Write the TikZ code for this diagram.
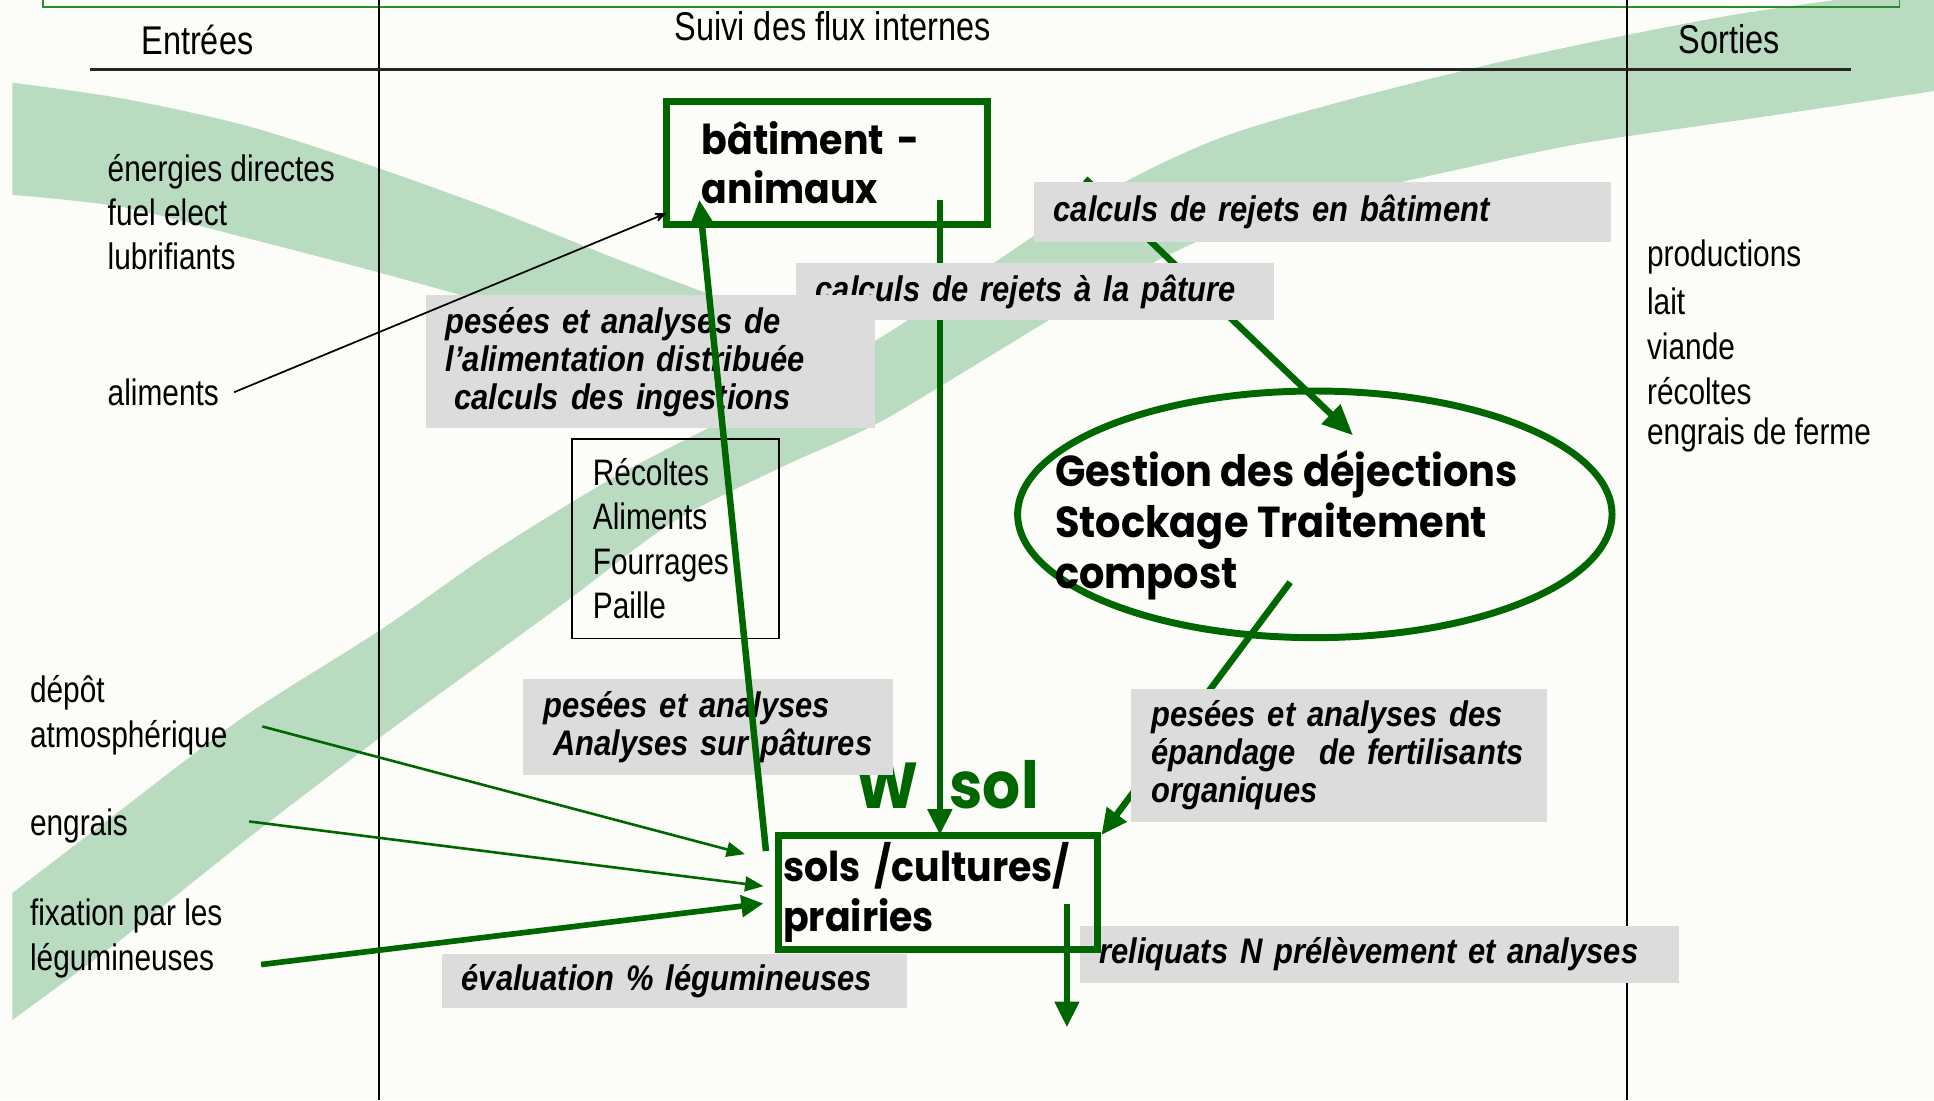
\documentclass[tikz,border=0pt]{standalone}
\usepackage{fontspec}
\setmainfont{Liberation Sans}
\newfontfamily\narrowfont[FakeStretch=0.81]{Liberation Sans}
\newfontfamily\tagfont[FakeStretch=0.87]{Liberation Sans}
\newfontfamily\comicfont[FakeStretch=0.92]{Poppins}
\usetikzlibrary{calc}
\usetikzlibrary{arrows,arrows.meta}
\usetikzlibrary{shapes.geometric}
\definecolor{paper}{RGB}{252,253,248}
\definecolor{bandgreen}{RGB}{185,220,192}
\definecolor{flowgreen}{RGB}{0,102,0}
\definecolor{framegreen}{RGB}{40,140,40}
\definecolor{boxgray}{RGB}{220,220,220}

\begin{document}
\begin{tikzpicture}[x=0.02cm,y=-0.02cm,
  lbl/.style={font=\narrowfont\fontsize{17}{20.5}\selectfont, align=left, inner sep=0pt},
  hdr/.style={font=\narrowfont\fontsize{18.5}{20}\selectfont, inner sep=0pt},
  tag/.style={fill=boxgray, font=\tagfont\bfseries\itshape\fontsize{16.4}{17.6}\selectfont, execute at begin node={\hyphenpenalty=10000\relax}, align=left, inner xsep=0.32cm, inner ysep=0pt, anchor=north west},
  comic/.style={font=\comicfont\bfseries\fontsize{19}{22.7}\selectfont, execute at begin node={\hyphenpenalty=10000\relax}, align=left},
  unit/.style={comic, draw=flowgreen, line width=3.2pt, outer sep=0pt, anchor=north west},
  flow/.style={draw=flowgreen, line width=3pt, -{Triangle[length=0.42cm,width=0.38cm]}},
  thinflow/.style={draw=flowgreen, line width=1.2pt, -{Triangle[length=0.3cm,width=0.24cm]}}]
\fill[paper] (0,0) rectangle (1568,892);
\useasboundingbox (0,0) rectangle (1568,892);
\fill[bandgreen] plot[smooth] coordinates {(10,724) (99,656) (198,581) (308,511) (397,449) (496,388) (596,336) (700,282) (784,228) (880,165) (1000,108) (1200,54) (1400,13) (1580,-12)}
  -- plot[smooth] coordinates {(1580,72) (1434,94) (1284,116) (1184,137) (1084,160) (984,190) (884,240) (784,300) (710,344) (633,379) (546,423) (464,484) (397,533) (308,598) (198,682) (99,761) (10,827)} -- cycle;
\fill[bandgreen] plot[smooth] coordinates {(10,67) (100,80) (200,102) (300,134) (400,170) (500,210) (600,248) (710,290)}
  -- plot[smooth] coordinates {(600,340) (500,280) (400,247) (300,219) (200,193) (100,168) (10,158)} -- cycle;
\draw[framegreen, line width=0.9pt] (35,-20) rectangle (1540,6);
\draw[line width=0.8pt] (307,0) -- (307,892);
\draw[line width=0.8pt] (1319,0) -- (1319,892);
\draw[black!85, line width=1.4pt] (73,56) -- (1501,56);
\node[hdr] (entrees) at (160,32) {Entrées};
\node[hdr] (suivi) at (675,21) {Suivi des flux internes};
\node[hdr] (sorties) at (1402,32) {Sorties};
\node[lbl, anchor=west] (ener) at (87,172) {énergies directes\\fuel elect\\lubrifiants};
\node[lbl, anchor=west] (alim) at (87,318) {aliments};
\node[lbl, anchor=west] (depot) at (24,580) {dépôt\\atmosphérique};
\node[lbl, anchor=west] (engr) at (24,670) {engrais};
\node[lbl, anchor=west] (fix) at (24,761) {fixation par les\\légumineuses};
\foreach \w [count=\i] in {productions,lait,viande,récoltes,engrais de ferme}
  \node[lbl, anchor=west] (out\i) at (1335,172+36.2*\i) {\w};
\node[tag, text width=9.08cm, minimum height=0.94cm] (reliq) at (875,750) {reliquats N prélèvement et analyses};
\node[unit, minimum width=5.22cm, minimum height=2cm, inner xsep=0.58cm, text width=4.06cm] (bat) at (540,82) {bâtiment -\\animaux};
\node[unit, minimum width=5.18cm, minimum height=1.86cm, inner xsep=0.08cm, text width=5.02cm] (sols) at (631,677) {sols /cultures/\\prairies};
\node[ellipse, draw=flowgreen, line width=3.2pt, minimum width=9.64cm, minimum height=4cm, inner sep=0pt] (gest) at (1066,417) {};
\node[comic, font=\comicfont\bfseries\fontsize{20}{23.5}\selectfont, anchor=west, inner sep=0pt] (gesttxt) at (855,426) {Gestion des déjections\\Stockage Traitement\\compost};
\node[lbl, draw, line width=0.8pt, anchor=north west, inner xsep=0.34cm, text width=2.68cm, minimum height=3.24cm] (stock) at (463,355) {Récoltes\\Aliments\\Fourrages\\Paille};
\node[comic, font=\comicfont\bfseries\fontsize{30}{30}\selectfont, text=flowgreen] (wsol) at (768,636) {W\hspace{0.5cm}sol};
\draw[flow, -{Triangle[length=0.5cm,width=0.42cm]}] ($(bat.east)+(79,13)$) -- ($(gest.center)+(31,-64)$);
\draw[flow] ($(bat.south west)+(222,-20)$) coordinate (dn) -- (dn |- sols.north);
\draw[flow] ($(gest.center)+(-20,55)$) -- ($(sols.north east)+(3,0)$);
\node[tag, text width=8.72cm, minimum height=0.98cm] (rejbat) at (838,147) {calculs de rejets en bâtiment};
\node[tag, text width=7.12cm, minimum height=0.92cm] (rejpat) at (645,213) {calculs de rejets à la pâture};
\node[tag, text width=6.64cm, minimum height=2.16cm] (pesalim) at (345,239) {pesées et analyses de\\l’alimentation distribuée\\\hspace*{0.14cm}calculs des ingestions};
\node[tag, text width=5.36cm, minimum height=1.56cm] (pespat) at (424,550) {pesées et analyses\\\hspace*{0.16cm}Analyses sur pâtures};
\node[tag, text width=6.1cm, minimum height=2.16cm] (pesepan) at (917,558) {pesées et analyses des\\épandage\ \ de fertilisants\\organiques};
\node[tag, text width=6.9cm, minimum height=0.88cm] (evalleg) at (358,773) {évaluation \% légumineuses};
\draw[flow] ($(sols.north west)+(-10,13)$) -- ($(bat.south west)+(27,-20)$);
\draw[black, line width=0.8pt, -stealth'] ($(alim.east)+(12,0)$) -- ($(bat.south west)+(0,-9)$);
\draw[thinflow] ($(depot.east)+(28,9)$) -- ($(sols.west)+(-27,-31)$);
\draw[thinflow] ($(engr.east)+(98,-4)$) -- ($(sols.west)+(-12,-5)$);
\draw[flow, line width=2.6pt, -{Triangle[length=0.36cm,width=0.34cm]}] ($(fix.east)+(31,21)$) -- ($(sols.west)+(-12,9)$);
\coordinate (drain) at (865,833);
\draw[flow] (drain |- 0,733) -- (drain);
\end{tikzpicture}
\end{document}
